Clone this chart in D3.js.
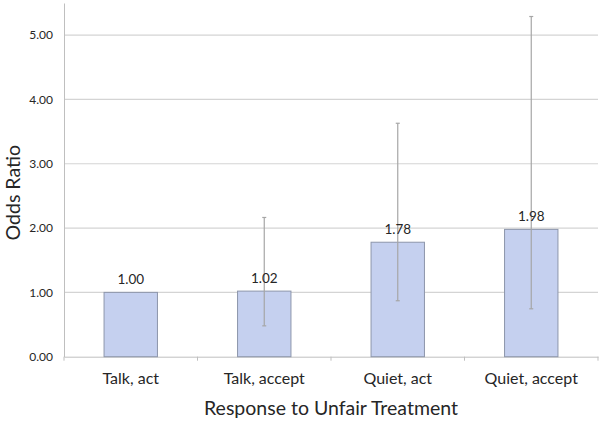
<!DOCTYPE html>
<html>
<head>
<meta charset="utf-8">
<script src="https://cdn.jsdelivr.net/npm/d3@7"></script>
<style>
  html, body { margin: 0; padding: 0; background: #fff; }
  svg { display: block; }
  text { font-family: Lato, "Open Sans", sans-serif; fill: #262626; }
</style>
</head>
<body>
<svg id="chart" width="600" height="423"></svg>
<script>
const categories = ["Talk, act", "Talk, accept", "Quiet, act", "Quiet, accept"];
const oddsRatios = [1.00, 1.02, 1.78, 1.98];
const ciLower = [null, 0.48, 0.87, 0.745];
const ciUpper = [null, 2.165, 3.63, 5.29];
const yTicks = [0, 1, 2, 3, 4, 5];
const xTitle = "Response to Unfair Treatment";
const yTitle = "Odds Ratio";

(function () {
const svg = d3.select("#chart");
const mLeft = 64, mRight = 598, mTop = 3, mBottom = 356.7;

const x = d3.scaleBand().domain(categories).range([mLeft, mRight]).paddingInner(0.6).paddingOuter(0.3);
const y = d3.scaleLinear().domain([0, 5.5]).range([mBottom, mTop]);

// gridlines
svg.append("g").selectAll("line").data(yTicks.filter(d => d > 0)).join("line")
  .attr("x1", mLeft).attr("x2", mRight)
  .attr("y1", d => y(d)).attr("y2", d => y(d))
  .attr("stroke", "#d4d4d4").attr("stroke-width", 1.2);

// y axis
const yAxis = svg.append("g").attr("transform", `translate(${mLeft},0)`)
  .call(d3.axisLeft(y).tickValues(yTicks).tickFormat(d3.format(".2f")).tickSize(0).tickPadding(11));
yAxis.select(".domain").attr("stroke", "#bfbfbf");
yAxis.selectAll("text").attr("font-size", 12).attr("font-family", "Lato, sans-serif").attr("fill", "#262626");

// x axis
const xAxis = svg.append("g").attr("transform", `translate(0,${mBottom})`)
  .call(d3.axisBottom(x).tickSize(0).tickPadding(16));
xAxis.select(".domain").attr("stroke", "#bfbfbf");
xAxis.selectAll("text").attr("font-size", 16).attr("font-family", "Lato, sans-serif").attr("fill", "#262626");
const step = (mRight - mLeft) / categories.length;
xAxis.selectAll(".bound").data(d3.range(categories.length + 1)).join("line")
  .attr("class", "bound")
  .attr("x1", i => mLeft + i * step).attr("x2", i => mLeft + i * step)
  .attr("y1", 0).attr("y2", 4).attr("stroke", "#bfbfbf");

// bars
const data = categories.map((c, i) => ({c, v: oddsRatios[i], lo: ciLower[i], hi: ciUpper[i]}));
svg.append("g").selectAll("rect").data(data).join("rect")
  .attr("x", d => x(d.c)).attr("width", x.bandwidth())
  .attr("y", d => y(d.v)).attr("height", d => y(0) - y(d.v))
  .attr("fill", "#c5d0ef").attr("stroke", "#8d96ab").attr("stroke-width", 1);

// error bars
const eb = svg.append("g").selectAll("g").data(data.filter(d => d.lo != null)).join("g");
eb.append("line")
  .attr("x1", d => x(d.c) + x.bandwidth() / 2).attr("x2", d => x(d.c) + x.bandwidth() / 2)
  .attr("y1", d => y(d.lo)).attr("y2", d => y(d.hi))
  .attr("stroke", "#a6a6a6").attr("stroke-width", 1.2);
["lo", "hi"].forEach(k => {
  eb.append("line")
    .attr("x1", d => x(d.c) + x.bandwidth() / 2 - 2).attr("x2", d => x(d.c) + x.bandwidth() / 2 + 2)
    .attr("y1", d => y(d[k])).attr("y2", d => y(d[k]))
    .attr("stroke", "#a6a6a6").attr("stroke-width", 1.2);
});

// value labels
svg.append("g").selectAll("text").data(data).join("text")
  .attr("x", d => x(d.c) + x.bandwidth() / 2)
  .attr("y", d => y(d.v) - 8)
  .attr("text-anchor", "middle").attr("font-size", 13.5)
  .text(d => d3.format(".2f")(d.v));

// titles
svg.append("text").attr("x", (mLeft + mRight) / 2).attr("y", 415)
  .attr("text-anchor", "middle").attr("font-size", 19.5).text(xTitle);
svg.append("text").attr("transform", `translate(20,${y(2.55)}) rotate(-90)`)
  .attr("text-anchor", "middle").attr("font-size", 19.5).text(yTitle);
})();
</script>
</body>
</html>
